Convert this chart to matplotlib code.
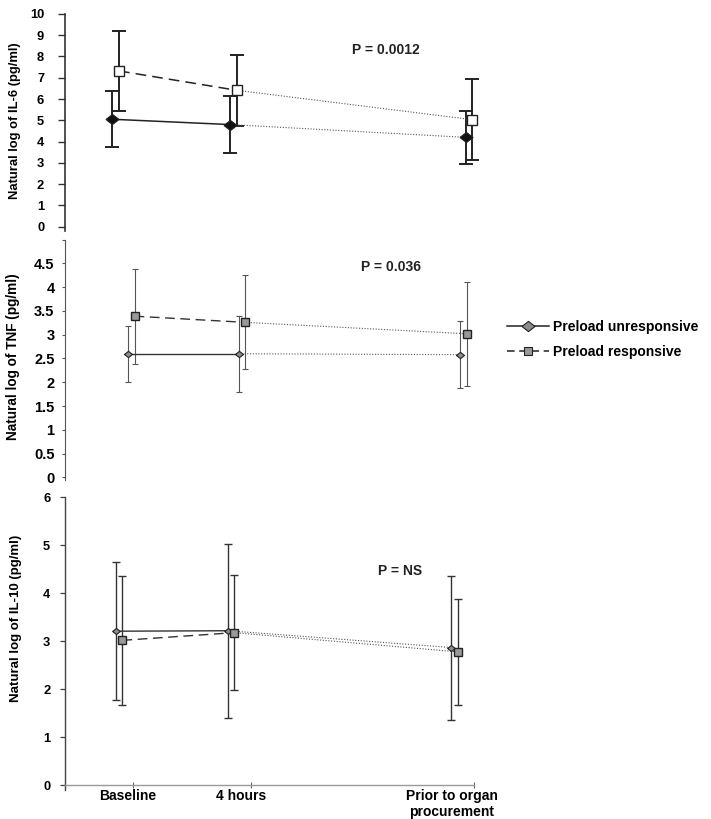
import matplotlib
matplotlib.use("Agg")
import matplotlib.pyplot as plt
from matplotlib.lines import Line2D
from matplotlib.ticker import FixedLocator, FixedFormatter

plt.rcParams['font.family'] = ['Liberation Sans', 'DejaVu Sans']
plt.rcParams['font.weight'] = 'bold'

# -----------------------------------------
# Data (natural log, mean and SD)
# -----------------------------------------
time_pos = [0, 4, 12]
time_labels = ["Baseline", "4 hours", "Prior to organ\nprocurement"]
groups = ["Preload unresponsive", "Preload responsive"]

il6_unresp = [5.05, 4.80, 4.20]
il6_unresp_sd = [1.32, 1.35, 1.23]
il6_resp = [7.32, 6.41, 5.03]
il6_resp_sd = [1.88, 1.66, 1.91]

tnf_unresp = [2.60, 2.60, 2.58]
tnf_unresp_sd = [0.59, 0.80, 0.70]
tnf_resp = [3.39, 3.26, 3.02]
tnf_resp_sd = [1.00, 0.99, 1.09]

il10_unresp = [3.21, 3.22, 2.87]
il10_unresp_sd = [1.44, 1.81, 1.50]
il10_resp = [3.02, 3.18, 2.78]
il10_resp_sd = [1.35, 1.20, 1.10]

p_values = ["P = 0.0012", "P = 0.036", "P = NS"]
ylabels = ["Natural log of IL-6 (pg/ml)", "Natural log of TNF (pg/ml)",
           "Natural log of IL-10 (pg/ml)"]

# wide diamond like the original
diamond = [(-1, 0), (0, 0.78), (1, 0), (0, -0.78), (-1, 0)]
shift = 0.115


# -----------------------------------------
# one panel: two groups, solid/dashed first segment, dotted after 4 h
# -----------------------------------------
def panel(ax, unresp, unresp_sd, resp, resp_sd, st):
    xu = [t - shift for t in time_pos]
    xr = [t + shift for t in time_pos]

    ax.errorbar(xu, unresp, yerr=unresp_sd, fmt='none', ecolor=st['ecol'],
                elinewidth=st['elw'], capsize=st['cap'], capthick=st['elw'], zorder=2)
    ax.errorbar(xr, resp, yerr=resp_sd, fmt='none', ecolor=st['ecol'],
                elinewidth=st['elw'], capsize=st['cap'], capthick=st['elw'], zorder=2)

    ax.plot(xu[:2], unresp[:2], color=st['lcol'], lw=st['lw'], ls='-', zorder=3)
    ax.plot(xr[:2], resp[:2], color=st['lcol'], lw=st['lw'], ls=(0, (7, 4)), zorder=3)
    ax.plot(xu[1:], unresp[1:], color='#555555', lw=0.8, ls=(0, (1, 1.5)), zorder=3)
    ax.plot(xr[1:], resp[1:], color='#555555', lw=0.8, ls=(0, (1, 1.5)), zorder=3)

    ax.plot(xu, unresp, ls='none', marker=diamond, ms=st['dms'], mfc=st['dfc'],
            mec='#222222', mew=0.8, zorder=4, clip_on=False)
    ax.plot(xr, resp, ls='none', marker='s', ms=st['sms'], mfc=st['sfc'],
            mec='#222222', mew=1.0, zorder=4, clip_on=False)

    for s in ['top', 'right']:
        ax.spines[s].set_visible(False)
    ax.spines['left'].set_color(st['spcol'])
    ax.spines['left'].set_linewidth(st['splw'])


fig = plt.figure(figsize=(7.11, 8.19), dpi=100)

ax1 = fig.add_axes([0.0914, 0.718, 0.6097, 0.265])
ax2 = fig.add_axes([0.0914, 0.4137, 0.5993, 0.2937])
ax3 = fig.add_axes([0.0914, 0.0353, 0.5752, 0.3575])

style1 = dict(ecol='#222222', elw=1.4, cap=4.7, lcol='#222222', lw=1.1,
              dms=9.4, dfc='#111111', sms=7.2, sfc='white', spcol='#333333', splw=1.2)
style2 = dict(ecol='#555555', elw=0.8, cap=2.4, lcol='#333333', lw=1.0,
              dms=5.8, dfc='#8c8c8c', sms=6.3, sfc='#999999', spcol='#555555', splw=0.8)
style3 = dict(ecol='#333333', elw=1.0, cap=3.2, lcol='#333333', lw=1.0,
              dms=5.6, dfc='#8c8c8c', sms=5.8, sfc='#999999', spcol='#444444', splw=1.0)

panel(ax1, il6_unresp, il6_unresp_sd, il6_resp, il6_resp_sd, style1)
panel(ax2, tnf_unresp, tnf_unresp_sd, tnf_resp, tnf_resp_sd, style2)
panel(ax3, il10_unresp, il10_unresp_sd, il10_resp, il10_resp_sd, style3)

# axes ranges
ax1.set_xlim(-1.72, 13.0)
ax1.set_ylim(-0.2, 10)
ax1.set_yticks(range(0, 11))
ax2.set_xlim(-2.40, 13.0)
ax2.set_ylim(-0.06, 5)
tnf_ticks = [i * 0.5 for i in range(11)]
ax2.set_yticks(tnf_ticks)
ax2.set_yticklabels(['0'] + ['%g' % v for v in tnf_ticks[1:-1]] + [''])
ax3.set_xlim(-1.94, 12.69)
ax3.set_ylim(-0.1, 6)
ax3.set_yticks(range(0, 7))

ax1.tick_params(axis='y', length=5, width=1.0, color='#333333', pad=10, labelsize=9.3)
ax2.tick_params(axis='y', length=2.5, width=0.8, color='#555555', pad=5, labelsize=10.5)
ax3.tick_params(axis='y', length=3.6, width=0.9, color='#444444', pad=7, labelsize=9.3)

for ax in (ax1, ax2):
    ax.spines['bottom'].set_visible(False)
    ax.set_xticks([])

# x axis only on the bottom panel
ax3.spines['bottom'].set_position(('data', 0))
ax3.spines['bottom'].set_color('#999999')
ax3.spines['bottom'].set_linewidth(1.0)
ax3.xaxis.set_major_locator(FixedLocator([0.5, 4.7, 12.69]))
ax3.xaxis.set_major_formatter(FixedFormatter(['', '', '']))
ax3.tick_params(axis='x', which='major', direction='inout', length=5, width=0.8, color='#666666')
ax3.xaxis.set_minor_locator(FixedLocator([0.3, 4.35, 11.9]))
ax3.xaxis.set_minor_formatter(FixedFormatter(time_labels))
ax3.tick_params(axis='x', which='minor', length=0, pad=3, labelsize=10)
for lab in ax3.xaxis.get_minorticklabels():
    lab.set_linespacing(1.1)

# y labels
for ax, lab, xy, fs in [(ax1, ylabels[0], (-0.1015, 0.507), 9.4),
                        (ax2, ylabels[1], (-0.1056, 0.513), 9.8),
                        (ax3, ylabels[2], (-0.106, 0.585), 9.5)]:
    ax.set_ylabel(lab, fontsize=fs, fontweight='bold')
    ax.yaxis.set_label_coords(*xy)

# p values
ax1.text(0.662, 0.834, p_values[0], transform=ax1.transAxes, fontsize=10,
         fontweight='bold', va='center', ha='left', color='#222222')
ax2.text(0.695, 0.886, p_values[1], transform=ax2.transAxes, fontsize=10,
         fontweight='bold', va='center', ha='left', color='#222222')
ax3.text(0.765, 0.748, p_values[2], transform=ax3.transAxes, fontsize=10,
         fontweight='bold', va='center', ha='left', color='#222222')

# legend
handles = [
    Line2D([], [], color='#222222', lw=1.1, ls='-', marker=diamond, ms=9.4,
           mfc='#8c8c8c', mec='#222222', mew=0.8),
    Line2D([], [], color='#222222', lw=1.1, ls=(0, (5, 3)), marker='s', ms=6,
           mfc='#999999', mec='#222222', mew=0.8),
]
fig.legend(handles, groups, loc='center left', bbox_to_anchor=(0.713, 0.5855),
           frameon=False, handlelength=3.0, handletextpad=0.3,
           labelspacing=0.8, borderpad=0, borderaxespad=0,
           prop={'weight': 'bold', 'size': 10})

fig.savefig("out.png", dpi=100)
